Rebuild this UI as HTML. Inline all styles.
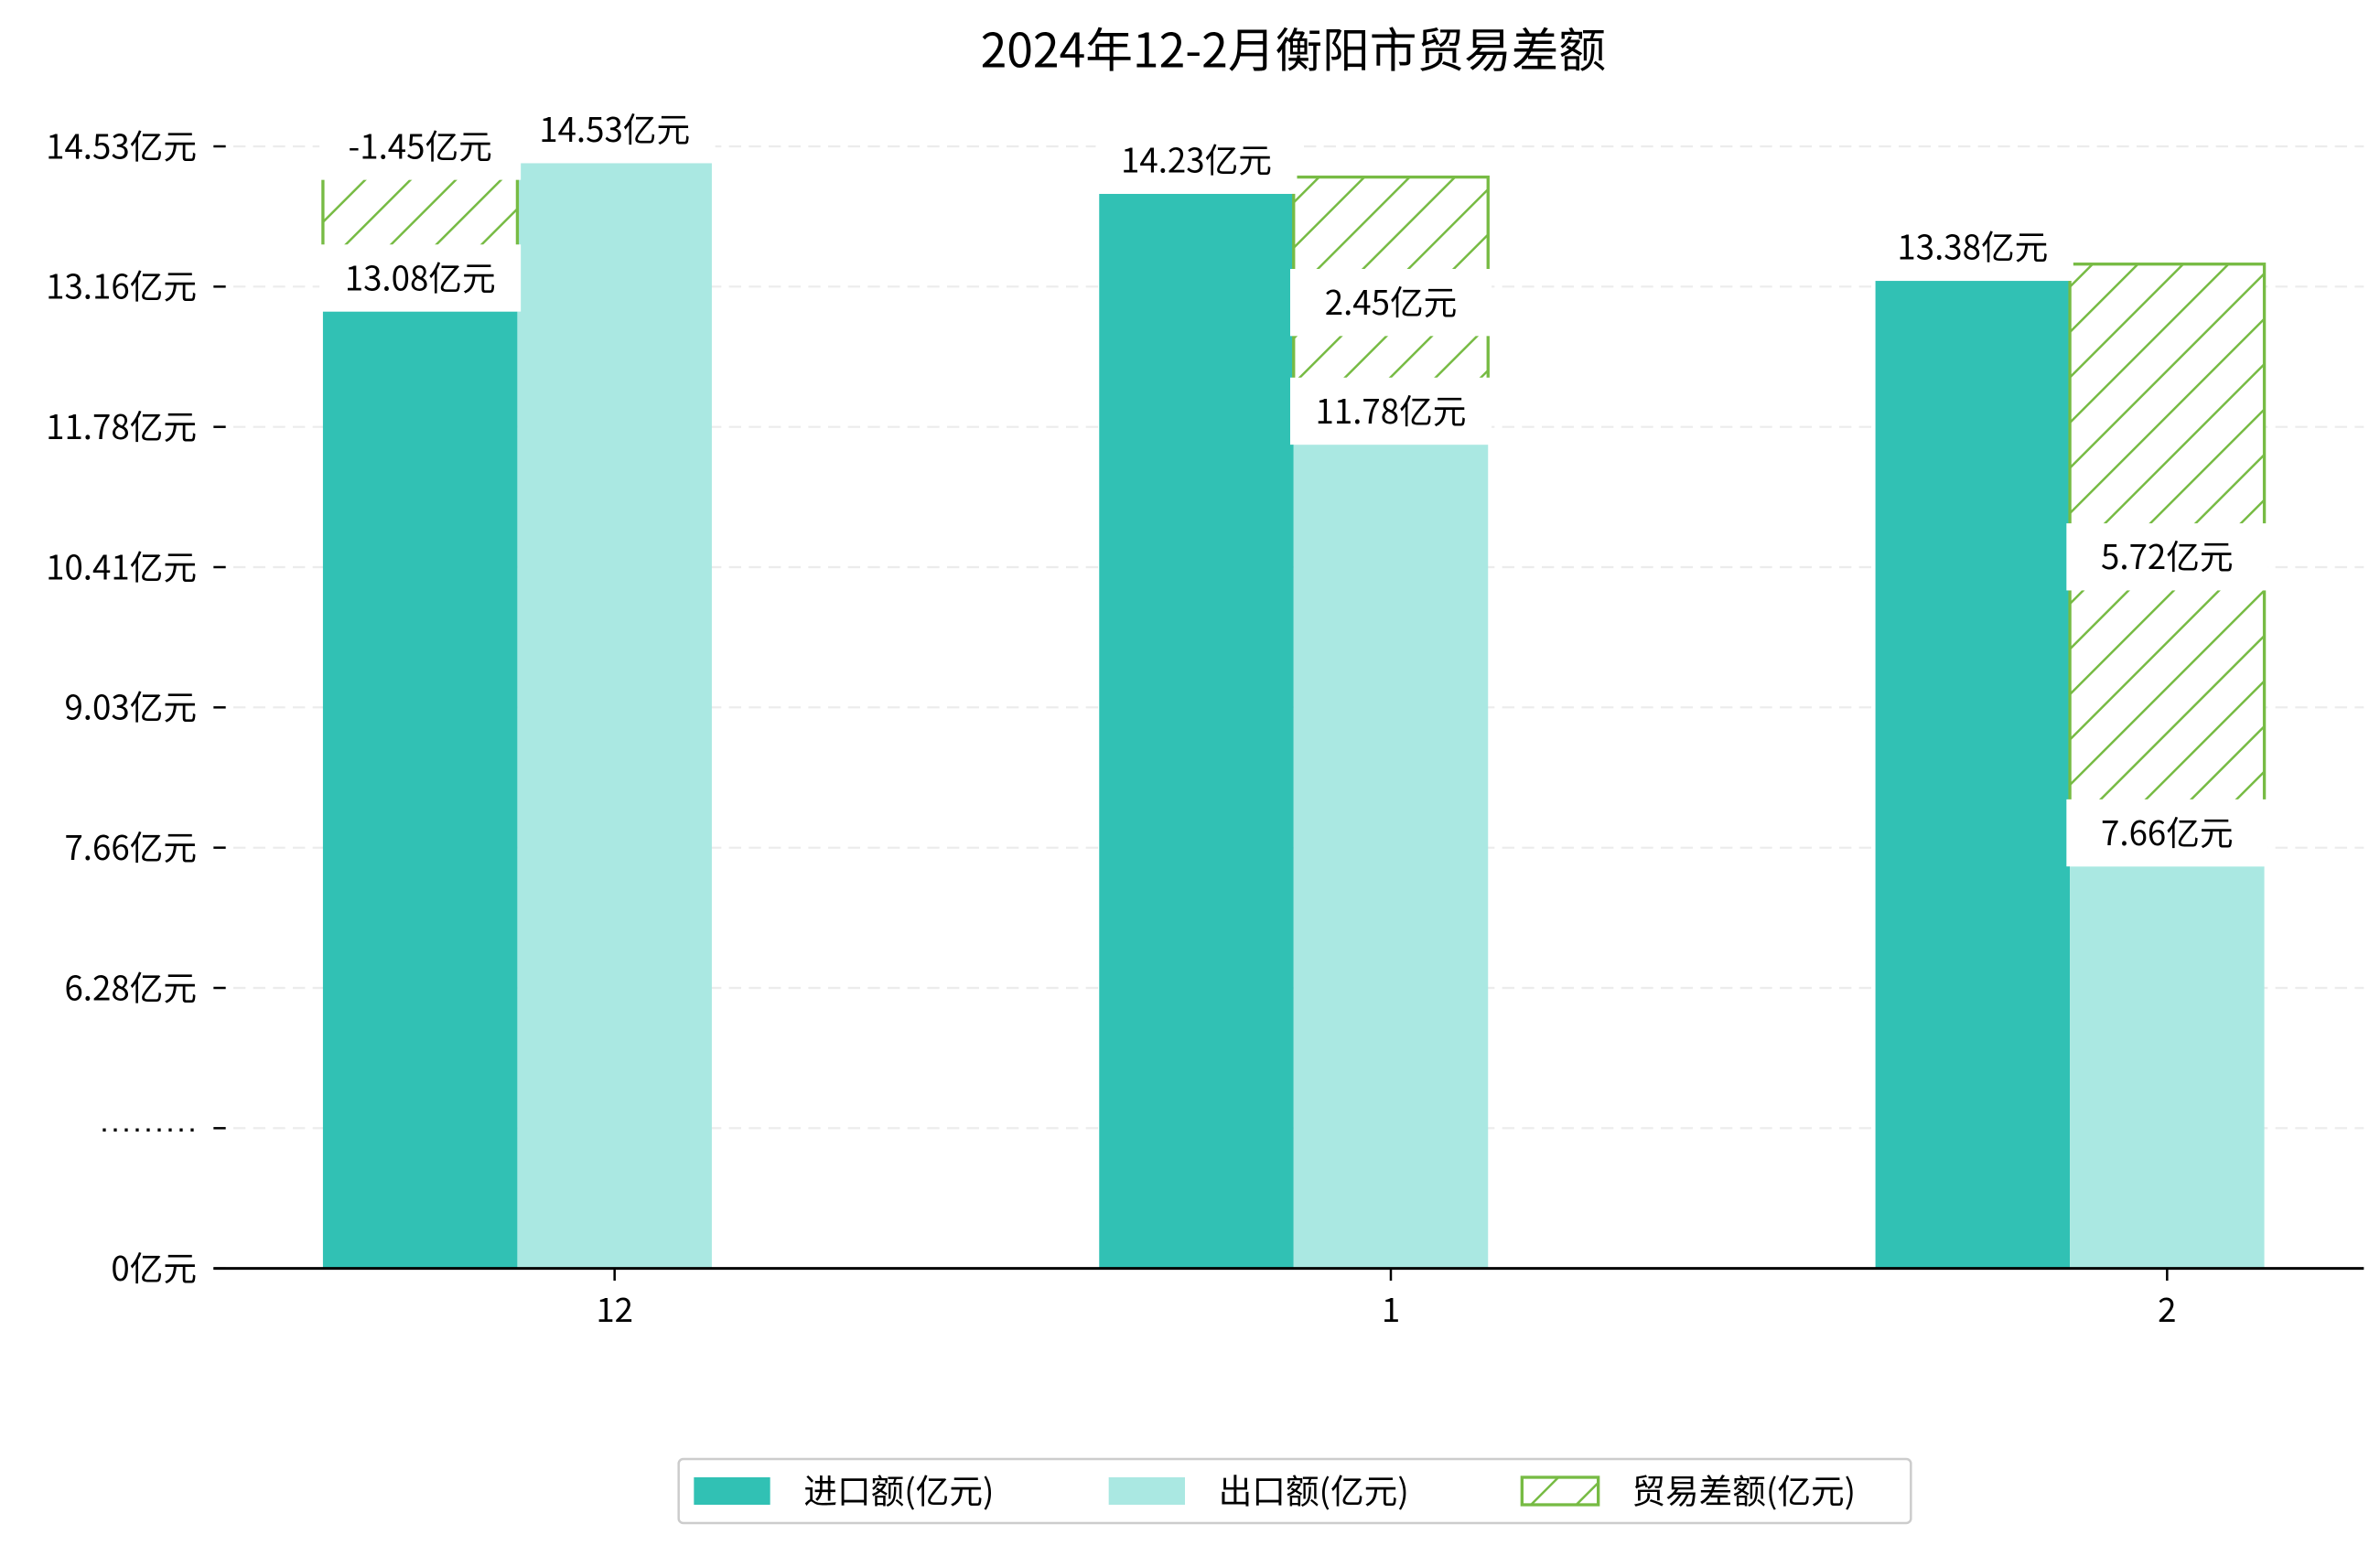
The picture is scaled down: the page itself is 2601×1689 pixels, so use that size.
<!DOCTYPE html>
<html><head><meta charset="utf-8"><style>
html,body{margin:0;padding:0;background:#fff;}
svg{display:block;font-family:"WenQuanYi Zen Hei","Noto Sans CJK SC",sans-serif;}
</style></head><body>
<svg id="chart" width="2601" height="1689" viewBox="0 0 1560.6 1013.4" xmlns="http://www.w3.org/2000/svg">
<defs>
<pattern id="hatch" patternUnits="userSpaceOnUse" width="21" height="21" patternTransform="rotate(45)">
<rect width="21" height="21" fill="#fff"/>
<line x1="0" y1="0" x2="0" y2="21" stroke="#77bb44" stroke-width="3"/>
</pattern>
</defs>
<text x="848" y="44" text-anchor="middle" font-size="31" fill="#000">2024年12-2月衡阳市贸易差额</text>
<g id="grid"></g>
<g id="bars"></g>
<g id="labels"></g>
<g id="axes"></g>
<g>
<rect x="445" y="957" width="808" height="42" rx="3" fill="#fff" stroke="#ccc" stroke-width="1.5"/>
<rect x="455" y="969" width="50" height="18" fill="#31c1b4"/>
<text x="527" y="986" font-size="22">进口额(亿元)</text>
<rect x="727" y="969" width="50" height="18" fill="#aae8e2"/>
<text x="799" y="986" font-size="22">出口额(亿元)</text>
<rect x="998" y="969" width="50" height="18" fill="url(#hatch)" stroke="#77bb44" stroke-width="2"/>
<text x="1070" y="986" font-size="22">贸易差额(亿元)</text>
</g>
</svg>
<script>
const categories = ['12', '1', '2'];
const importVals = [13.08, 14.23, 13.38];
const exportVals = [14.53, 11.78, 7.66];
const balanceVals = [-1.45, 2.45, 5.72];
const yTickLabels = ['14.53亿元','13.16亿元','11.78亿元','10.41亿元','9.03亿元','7.66亿元','6.28亿元','·········','0亿元'];

const NS = 'http://www.w3.org/2000/svg';
const gGrid = document.getElementById('grid');
const gBars = document.getElementById('bars');
const gLabels = document.getElementById('labels');
const gAxes = document.getElementById('axes');
function mk(tag, attrs, parent){const e=document.createElementNS(NS,tag);for(const k in attrs)e.setAttribute(k,attrs[k]);parent.appendChild(e);return e;}

const zeroY = 832, left = 140, right = 1550;
const topV = 14.53, topY = 96, pxPerUnit = 67.15;
function yAxis(v){ return topY + (topV - v) * pxPerUnit; }
function yBar(v){ return yAxis(v) + 11; }
function xCenter(i){ return 403 + i * 509; }
const barW = 127.5;

yTickLabels.forEach((t, i) => {
  const y = 96 + i * 92;
  if (i < yTickLabels.length - 1) {
    const g = mk('line', {x1:left, x2:right, y1:y, y2:y, stroke:'#ececec', 'stroke-width':1.3, 'stroke-dasharray':'8,5'}, gGrid);
    
    
  }
  const tk = mk('line', {x1:left, x2:left+8, y1:y, y2:y, stroke:'#000', 'stroke-width':1.5}, gAxes);
  
  
  const tl = mk('text', {x:left-11, y:y+8, 'text-anchor':'end', 'font-size':22}, gAxes);
  if (t.indexOf('·') === 0) { tl.setAttribute('font-family', 'Liberation Mono, monospace'); tl.setAttribute('font-size', '14'); tl.setAttribute('font-weight', 'bold'); tl.setAttribute('letter-spacing', '-1.2'); tl.setAttribute('y', y + 5); }
  tl.textContent = t;
  
  
});
const sp = mk('line', {x1:left, x2:right, y1:zeroY, y2:zeroY, stroke:'#000', 'stroke-width':1.8}, gAxes);



function label(txt, cx, cy, name){
  const w = 132;
  const r = mk('rect', {x:cx-w/2, y:cy-22, width:w, height:44, fill:'#fff'}, gLabels);
  
  
  const t = mk('text', {x:cx, y:cy+8, 'text-anchor':'middle', 'font-size':22}, gLabels);
  t.textContent = txt;
  
  
}

categories.forEach((c, i) => {
  const cx = xCenter(i);
  const ix = cx - 1.5*barW, ex = cx - 0.5*barW;
  const ib = mk('rect', {x:ix, y:yBar(importVals[i]), width:barW, height:zeroY - yBar(importVals[i]), fill:'#31c1b4'}, gBars);
  
  
  const eb = mk('rect', {x:ex, y:yBar(exportVals[i]), width:barW, height:zeroY - yBar(exportVals[i]), fill:'#aae8e2'}, gBars);
  
  
  const hi = Math.max(importVals[i], exportVals[i]);
  const lo = hi - Math.abs(balanceVals[i]);
  const hx = importVals[i] < exportVals[i] ? ix : ex;
  const hb = mk('rect', {x:hx, y:yAxis(hi), width:barW, height:yAxis(lo) - yAxis(hi), fill:'url(#hatch)', stroke:'#77bb44', 'stroke-width':2}, gBars);
  
  
  label(importVals[i].toFixed(2) + '亿元', ix + barW/2, yBar(importVals[i]) - 22, 'import-value-' + c);
  label(exportVals[i].toFixed(2) + '亿元', ex + barW/2, yBar(exportVals[i]) - 22, 'export-value-' + c);
  const by = balanceVals[i] < 0 ? yAxis(hi) : (yAxis(hi) + yAxis(lo)) / 2;
  label(balanceVals[i].toFixed(2) + '亿元', hx + barW/2, by, 'balance-value-' + c);
  const xt = mk('line', {x1:cx, x2:cx, y1:zeroY, y2:zeroY+8, stroke:'#000', 'stroke-width':1.5}, gAxes);
  
  
  const xl = mk('text', {x:cx, y:zeroY+35, 'text-anchor':'middle', 'font-size':22}, gAxes);
  xl.textContent = c;
  
  
});
</script>
</body></html>
